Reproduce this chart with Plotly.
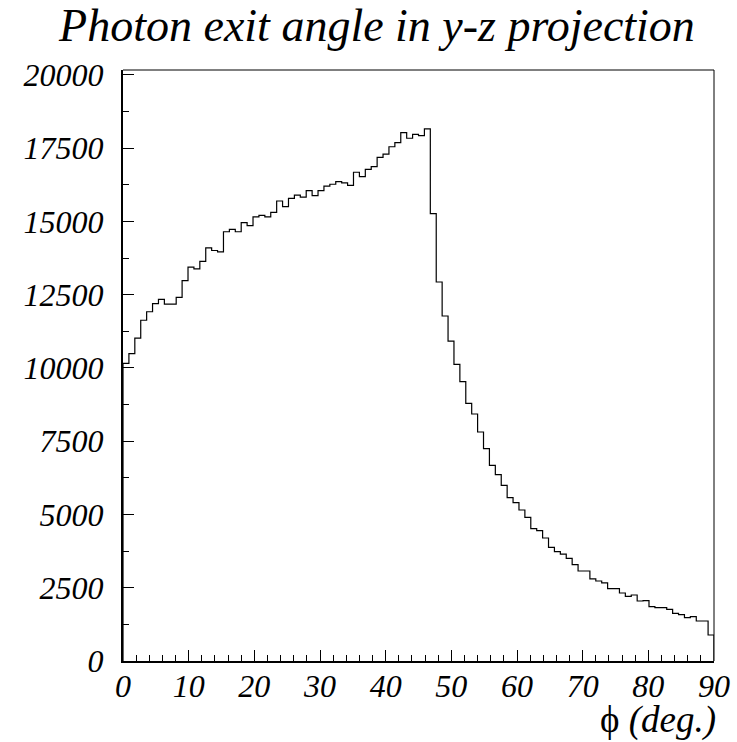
import numpy as np
import plotly.graph_objects as go

# Histogram: 100 bins over 0..90 degrees
X_MIN, X_MAX, N_BINS = 0.0, 90.0, 100
COUNTS = [
    10160, 10490, 11020, 11630, 11920, 12200, 12340, 12180, 12180, 12410,
    12980, 13440, 13380, 13640, 14100, 14010, 13960, 14650, 14730, 14650,
    14960, 14860, 15160, 15210, 15160, 15310, 15700, 15510, 15790, 15900,
    15830, 16050, 15880, 16050, 16210, 16270, 16360, 16320, 16230, 16680,
    16530, 16780, 16870, 17190, 17300, 17550, 17690, 18030, 17840, 17970,
    17930, 18160, 15270, 12935, 11775, 10920, 10125, 9533, 8794, 8430,
    7816, 7247, 6678, 6359, 5996, 5575, 5404, 5154, 4903, 4516,
    4448, 4198, 3880, 3731, 3650, 3500, 3290, 3072, 3072, 2800,
    2730, 2668, 2470, 2470, 2320, 2207, 2253, 2048, 2059, 1854,
    1820, 1820, 1763, 1627, 1581, 1479, 1513, 1365, 1365, 887,
]
X_TICKS = [0, 10, 20, 30, 40, 50, 60, 70, 80, 90]
X_TICKTEXT = [str(v) for v in X_TICKS]
Y_TICKS = [0, 2500, 5000, 7500, 10000, 12500, 15000, 17500, 20000]
Y_TICKTEXT = [str(v) for v in Y_TICKS]
TITLE = "Photon exit angle in y-z projection"
X_TITLE = "\u03d5 <i>(deg.)</i>"

edges = np.linspace(X_MIN, X_MAX, N_BINS + 1)
xs = [edges[0]] + list(edges[:-1]) + [edges[-1], edges[-1]]
ys = [0] + list(COUNTS) + [COUNTS[-1], 0]

FONT = "Liberation Serif"

fig = go.Figure()
fig.add_trace(go.Scatter(
    x=xs, y=ys, mode="lines", line=dict(color="black", width=1.2, shape="hv"),
    hoverinfo="skip", showlegend=False,
))

fig.update_layout(
    width=737, height=742,
    paper_bgcolor="white", plot_bgcolor="white",
    margin=dict(l=123, r=23, t=70, b=81, autoexpand=False),
    title=dict(text=TITLE, xref="container", x=377 / 737, xanchor="center",
               yref="container", y=1 - 9 / 742, yanchor="top",
               font=dict(family=FONT, size=46, color="black", style="italic")),
    showlegend=False,
)
fig.update_xaxes(
    range=[X_MIN, X_MAX], showgrid=False, zeroline=False, automargin=False,
    showline=True, linecolor="black", linewidth=2,
    tickmode="array", tickvals=X_TICKS, ticktext=X_TICKTEXT,
    ticks="inside", ticklen=11, tickcolor="black", tickwidth=1,
    tickfont=dict(family=FONT, size=32, color="black", style="italic"),
    minor=dict(tickmode="linear", tick0=0, dtick=2, ticks="inside", ticklen=6,
               tickcolor="black", tickwidth=1, showgrid=False),
    ticklabelstandoff=-4,
)
fig.update_yaxes(
    range=[0, 20170], showgrid=False, zeroline=False, automargin=False,
    showline=True, linecolor="black", linewidth=2,
    tickmode="array", tickvals=Y_TICKS, ticktext=Y_TICKTEXT,
    ticks="inside", ticklen=11, tickcolor="black", tickwidth=1,
    tickfont=dict(family=FONT, size=32, color="black", style="italic"),
    minor=dict(tickmode="linear", tick0=0, dtick=1250, ticks="inside", ticklen=6,
               tickcolor="black", tickwidth=1, showgrid=False),
    ticklabelstandoff=11,
)
# top and right frame lines
fig.add_shape(type="line", xref="paper", yref="paper", x0=0, x1=1, y0=1, y1=1,
              line=dict(color="black", width=1))
fig.add_shape(type="line", xref="paper", yref="paper", x0=1, x1=1, y0=0, y1=1,
              line=dict(color="black", width=1))
fig.add_annotation(text=X_TITLE, xref="paper", yref="paper", x=1.0, y=-0.1,
                   xanchor="right", yanchor="middle", showarrow=False, xshift=4,
                   font=dict(family=FONT, size=37, color="black"))

fig.write_html("out.html", config={"displayModeBar": False},
               post_script="document.body.style.margin='0';document.body.style.overflow='hidden';")
